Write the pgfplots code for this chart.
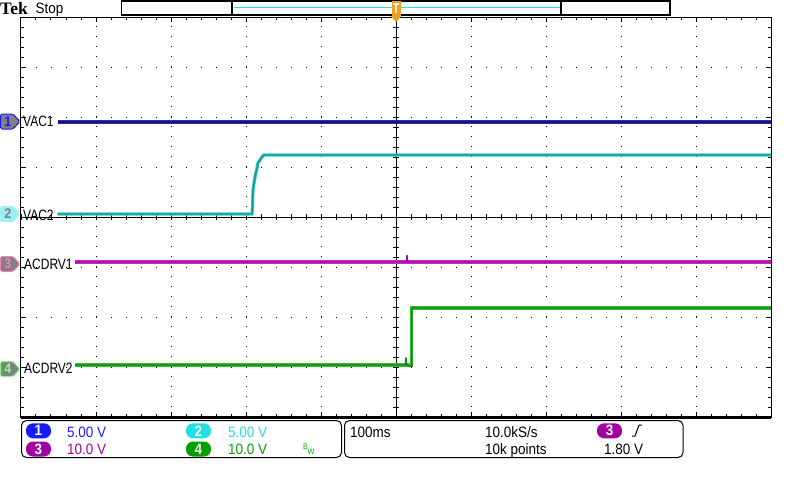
\documentclass[border=0pt]{standalone}
\usepackage{pgfplots}
\pgfplotsset{compat=1.18}
\usepackage{fontspec}
\setmainfont{Liberation Sans}[FakeStretch=0.9]
\newfontfamily\labfont{Liberation Sans}[FakeStretch=0.8]
\newfontfamily\tekfont{Liberation Serif}
\definecolor{bOne}{HTML}{1A1AFF}
\definecolor{bTwo}{HTML}{20E0E0}
\definecolor{bThree}{HTML}{A000A0}
\definecolor{bFour}{HTML}{00A000}
\definecolor{tOneO}{HTML}{2A2AB0}
\definecolor{tOneC}{HTML}{14147A}
\definecolor{tTwoO}{HTML}{2CCACA}
\definecolor{tTwoC}{HTML}{159595}
\definecolor{tThreeO}{HTML}{C828C8}
\definecolor{tThreeC}{HTML}{9A109A}
\definecolor{tFourO}{HTML}{30C030}
\definecolor{tFourC}{HTML}{108010}
\definecolor{trig}{HTML}{F0A020}
\definecolor{mgrey}{HTML}{808080}
\begin{document}
\begin{tikzpicture}
\useasboundingbox (0,0) rectangle (800pt,-480pt);
% center cross lines (behind traces)
\begin{scope}[x=1pt,y=-1pt]
\draw[line width=1pt] (21,217)--(771,217);
\draw[line width=1pt] (396,16.5)--(396,417);
\foreach \i in {0,...,50} \draw[line width=1pt] (21+15*\i,214)--(21+15*\i,220);
\foreach \j in {0,...,40} \draw[line width=1pt] (393,17+10*\j)--(399,17+10*\j);
\end{scope}
\begin{axis}[
  at={(21pt,-417pt)}, anchor=south west,
  scale only axis, width=750pt, height=400pt,
  xmin=0, xmax=10, ymin=0, ymax=8,
  xtick={0,...,10}, ytick={0,...,8},
  xticklabels={,,,,,,,,,,,}, yticklabels={,,,,,,,,,},
  tick label style={opacity=0, font=\tiny},
  minor x tick num=4, minor y tick num=4,
  major tick length=5pt, minor tick length=3pt,
  tick align=inside, xtick pos=both, ytick pos=both,
  every tick/.style={black, line width=1pt},
  axis line style={black, line width=1pt},
  xmajorgrids, ymajorgrids,
  x grid style={black, line width=1pt, dash pattern=on 1pt off 9pt},
  y grid style={black, line width=1pt, dash pattern=on 1pt off 14pt},
]
% VAC1
\addplot[tOneO, line width=3.2pt] coordinates {(0.49,5.90) (10,5.90)};
\addplot[tOneC, line width=1.5pt] coordinates {(0.49,5.90) (10,5.90)};
% VAC2
\addplot[tTwoO, line width=3.2pt] coordinates {(0.49,4.06) (3.08,4.06) (3.087,4.20) (3.093,4.54) (3.12,4.80) (3.147,4.98) (3.16,5.08) (3.187,5.14) (3.213,5.20) (3.24,5.24) (10,5.24)};
\addplot[tTwoC, line width=1.4pt] coordinates {(0.49,4.06) (3.08,4.06) (3.087,4.20) (3.093,4.54) (3.12,4.80) (3.147,4.98) (3.16,5.08) (3.187,5.14) (3.213,5.20) (3.24,5.24) (10,5.24)};
% ACDRV1
\addplot[tThreeO, line width=3.2pt] coordinates {(0.72,3.10) (10,3.10)};
\addplot[tThreeC, line width=1.4pt, line join=bevel] coordinates {(0.72,3.10) (5.14,3.10) (5.147,3.24) (5.153,3.10) (10,3.10)};
% ACDRV2
\addplot[tFourO, line width=3.2pt] coordinates {(0.72,1.04) (5.21,1.04) (5.21,2.18) (10,2.18)};
\addplot[tFourC, line width=1.4pt, line join=bevel] coordinates {(0.72,1.04) (5.127,1.04) (5.133,1.19) (5.14,1.04) (5.21,1.01) (5.21,2.18) (10,2.18)};
\end{axis}
\begin{scope}[x=1pt,y=-1pt]
% bottom thick border
\draw[line width=2.5pt] (21,417.5)--(771,417.5);
% top bar
\node[anchor=base west, inner sep=0, font=\tekfont\bfseries\fontsize{17.5}{20}\selectfont] at (0,14) {Tek};
\node[anchor=base west, inner sep=0, font=\fontsize{15}{17}\selectfont] at (35.5,13.5) {Stop};
\draw[line width=1.5pt] (121.5,0.8) rectangle (670,15.2);
\draw[line width=2pt] (232,0.5)--(232,15.5);
\draw[line width=2pt] (561,0.5)--(561,15.5);
\draw[bTwo, line width=1pt] (233.5,7)--(559.5,7);
\fill[trig] (391.5,1) rectangle (401,15.5);
\fill[white!80!trig] (393.3,3) rectangle (399.2,5);
\fill[white!80!trig] (395.3,5) rectangle (397.3,13);
\fill[trig] (390.5,16) -- (401.5,16) -- (396,22) -- cycle;
% channel markers
\foreach \c/\fc/\bc/\nc/\n in {121.5/mgrey/bOne/bOne/1, 214/white!55!bTwo/white!55!bTwo/mgrey/2, 264/mgrey/white!50!magenta/white!50!magenta/3, 369/mgrey/white!50!green/white!50!green/4} {
  \filldraw[fill=\fc, draw=\bc, line width=1pt, rounded corners=1.5pt] (0.5,\c-7.5) -- (13,\c-7.5) -- (20,\c) -- (13,\c+7.5) -- (0.5,\c+7.5) -- cycle;
  \node[text=\nc, inner sep=0, font=\bfseries\fontsize{14}{16}\selectfont] at (8,\c) {\n};
}
% trace labels
\node[anchor=base west, inner sep=0, font=\labfont\fontsize{15}{17}\selectfont] at (23,126.5) {VAC1};
\node[anchor=base west, inner sep=0, font=\labfont\fontsize{15}{17}\selectfont] at (23,220) {VAC2};
\node[anchor=base west, inner sep=0, font=\labfont\fontsize{15}{17}\selectfont] at (24,269) {ACDRV1};
\node[anchor=base west, inner sep=0, font=\labfont\fontsize{15}{17}\selectfont] at (24,373) {ACDRV2};
% bottom panels
\draw[line width=1pt, rounded corners=5pt] (21.5,420.5) rectangle (341.5,457.5);
\draw[line width=1pt, rounded corners=5pt] (344.5,420.5) rectangle (683,457.5);
\foreach \x/\y/\col/\n in {26/423.3/bOne/1, 26/441.5/bThree/3, 186/423.3/bTwo/2, 186/441.5/bFour/4, 597/423.3/bThree/3} {
  \fill[\col, rounded corners=7pt] (\x,\y) rectangle (\x+25,\y+15);
  \node[text=white, inner sep=0, font=\bfseries\fontsize{15}{17}\selectfont] at (\x+12.5,\y+7.5) {\n};
}
\begin{scope}[every node/.style={anchor=base west, inner sep=0, font=\fontsize{15}{17}\selectfont}]
\node[text=bOne] at (67,437) {5.00 V};
\node[text=bThree] at (67,454) {10.0 V};
\node[text=bTwo] at (228,437) {5.00 V};
\node[text=bFour] at (228,454) {10.0 V};
\node at (350,437) {100ms};
\node at (485,437) {10.0kS/s};
\node at (485,454) {10k points};
\node at (604,454) {1.80 V};
\node[text=bFour, font=\fontsize{8}{9}\selectfont] at (303,449) {B};
\node[text=bFour, font=\fontsize{8}{9}\selectfont] at (307.5,454) {W};
\end{scope}
\draw[line width=1pt] (632,436) -- (635,436) -- (639,425) -- (642,425);
\end{scope}
\end{tikzpicture}
\end{document}
